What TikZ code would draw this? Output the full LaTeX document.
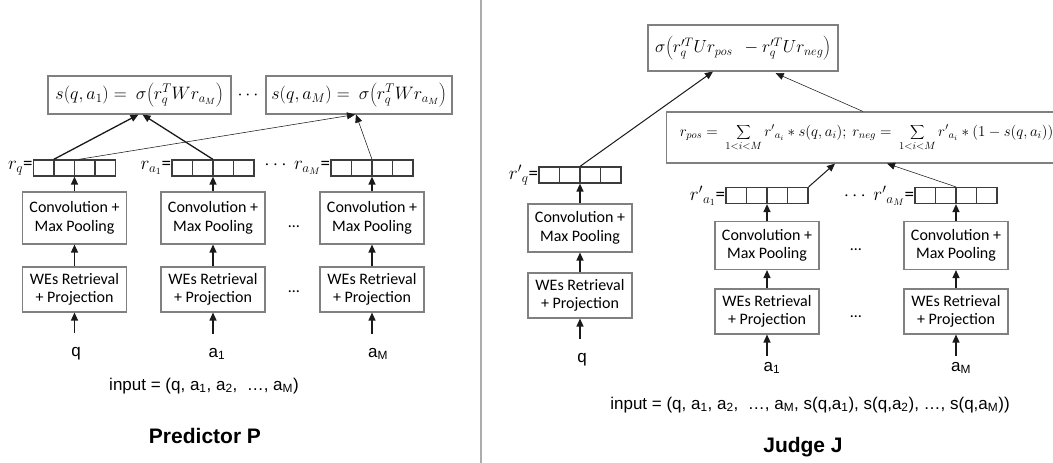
\RequirePackage{fix-cm}
\documentclass[tikz,border=0pt]{standalone}
\usepackage[no-math]{fontspec}
\setmainfont{Carlito}
\newfontfamily\arialf{Liberation Sans}
\usetikzlibrary{calc,arrows.meta}
\definecolor{boxgray}{HTML}{808080}
\definecolor{ink}{HTML}{1A1A1A}
\begin{document}
\begin{tikzpicture}[x=1pt,y=-1pt,
  box/.style={draw=boxgray, line width=1.1pt, align=center, inner sep=0pt, minimum width=104pt, font=\fontsize{16}{18.5}\selectfont},
  mbox/.style={draw=boxgray, line width=1.1pt, inner sep=0pt, font=\fontsize{18}{21}\selectfont},
  vecbox/.style={draw=ink!85, line width=1.2pt, minimum width=82pt, minimum height=16pt, inner sep=0pt,
     path picture={\foreach \k in {1,2,3}{\draw[ink!85, line width=1.2pt] ($(path picture bounding box.south west)!\k/4!(path picture bounding box.south east)$) -- ($(path picture bounding box.north west)!\k/4!(path picture bounding box.north east)$);}}},
  vlab/.style={inner sep=0pt, font=\fontsize{19}{22}\selectfont},
  lab/.style={inner sep=0pt, font=\arialf\fontsize{17}{20}\selectfont},
  arr/.style={draw=ink, line width=1.3pt, -{Triangle[length=8pt,width=7pt]}},
  marr/.style={draw=ink, line width=1pt, -{Triangle[length=8pt,width=7pt]}},
  tarr/.style={draw=ink, line width=0.55pt, -{Triangle[length=8pt,width=7pt]}},
  dotsn/.style={inner sep=0pt, font=\fontsize{16}{18}\selectfont},
  titlen/.style={inner sep=0pt, font=\arialf\bfseries\fontsize{21}{25}\selectfont}
]
\fill[white] (0,0) rectangle (1053,463);
\useasboundingbox (0,0) rectangle (1053,463);

% ---------------- Predictor P ----------------
\node[mbox, minimum width=183pt, minimum height=38pt] (S1) at (139.5,95) {$s(q,a_1) =\ \sigma\!\left(r_q^T W r_{a_M}\right)$};
\node[dotsn, font=\fontsize{18}{21}\selectfont] (sd) at (248,95) {$\cdots$};
\node[mbox, minimum width=186pt, minimum height=38pt] (S2) at (359,95) {$s(q,a_M) =\ \sigma\!\left(r_q^T W r_{a_M}\right)$};

\node[vecbox] (vq) at (74.5,168) {};
\node[vecbox] (va) at (213,168) {};
\node[vecbox] (vm) at (372,168) {};
\node[vlab, anchor=east] (lvq) at (vq.west) {$r_q$=};
\node[vlab, anchor=east] (lva) at (va.west) {$r_{a_1}$=};
\node[vlab, anchor=east] (lvm) at (vm.west) {$\cdots\ r_{a_M}$=};

\node[box, minimum height=52pt] (cq) at (74.5,218) {Convolution +\\Max Pooling};
\node[box, minimum height=52pt] (ca) at (213,218) {Convolution +\\Max Pooling};
\node[box, minimum height=52pt] (cm) at (372,218) {Convolution +\\Max Pooling};
\node[box, minimum height=45pt] (wq) at (74.5,289.5) {WEs Retrieval\\+ Projection};
\node[box, minimum height=45pt] (wa) at (213,289.5) {WEs Retrieval\\+ Projection};
\node[box, minimum height=45pt] (wm) at (372,289.5) {WEs Retrieval\\+ Projection};
\node[dotsn] (d1) at (294,227) {\ldots};
\node[dotsn] (d2) at (294,292) {\ldots};

\node[lab] (lq) at (76,354) {q};
\node[lab] (la) at (217,354) {a\textsubscript{1}};
\node[lab] (lm) at (378,354) {a\textsubscript{M}};

\draw[arr, shorten <=14pt] (lq.north -| wq.south) -- (wq.south);
\draw[arr, shorten <=14pt] (la.north -| wa.south) -- (wa.south);
\draw[arr, shorten <=14pt] (lm.north -| wm.south) -- (wm.south);
\draw[arr] (wq.north) -- (cq.south);
\draw[arr] (wa.north) -- (ca.south);
\draw[arr] (wm.north) -- (cm.south);
\draw[arr] (cq.north) -- (vq.south);
\draw[arr] (ca.north) -- (va.south);
\draw[arr] (cm.north) -- (vm.south);

\draw[arr] ($(vq.north west)!0.25!(vq.north east)$) -- ([xshift=-1pt]S1.south);
\draw[arr] (va.north) -- ([xshift=3pt]S1.south);
\draw[tarr] ($(vq.north west)!0.55!(vq.north east)$) -- ([xshift=-4pt]S2.south);
\draw[tarr] (vm.north) -- ([xshift=-3pt]S2.south);

\node[lab] (inP) at (204,386) {input = (q, a\textsubscript{1}, a\textsubscript{2}, \ …, a\textsubscript{M})};
\node[titlen] (tP) at (205,436) {Predictor P};

% divider
\draw[gray!65, line width=1.5pt] (481,0) -- (481,463);

% ---------------- Judge J ----------------
\node[mbox, minimum width=190pt, minimum height=46pt, font=\fontsize{17.5}{21}\selectfont] (T) at (743,48) {$\sigma\!\left(r'^{T}_{q} U r_{pos}\ \ - r'^{T}_{q} U r_{neg}\right)$};
\node[mbox, anchor=west, minimum width=400pt, minimum height=51pt, font=\fontsize{15}{18}\selectfont] (R) at (666,137.5)
  {$\displaystyle r_{pos} =\ \sum_{1<i<M} {r'}_{a_i} * s(q,a_i);\ r_{neg} =\ \sum_{1<i<M} {r'}_{a_i} * (1-s(q,a_i))$};

\node[vecbox] (vq2) at (580,175) {};
\node[vecbox] (va2) at (767,195.5) {};
\node[vecbox] (vm2) at (956,195.5) {};
\node[vlab, anchor=east] (lvq2) at (vq2.west) {${r'}_q$=};
\node[vlab, anchor=east] (lva2) at (va2.west) {${r'}_{a_1}$=};
\node[vlab, anchor=east] (lvm2) at (vm2.west) {$\cdots\ {r'}_{a_M}$=};

\node[box, minimum height=48pt] (cq2) at (580,228) {Convolution +\\Max Pooling};
\node[box, minimum height=48pt] (ca2) at (767,245.5) {Convolution +\\Max Pooling};
\node[box, minimum height=48pt] (cm2) at (956,245.5) {Convolution +\\Max Pooling};
\node[box, minimum height=45pt] (wq2) at (580,295.5) {WEs Retrieval\\+ Projection};
\node[box, minimum height=45pt] (wa2) at (767,311.5) {WEs Retrieval\\+ Projection};
\node[box, minimum height=45pt] (wm2) at (956,311.5) {WEs Retrieval\\+ Projection};
\node[dotsn] (d3) at (856,250) {\ldots};
\node[dotsn] (d4) at (856,317) {\ldots};

\node[lab] (lq2) at (582,360) {q};
\node[lab] (la2) at (772,368) {a\textsubscript{1}};
\node[lab] (lm2) at (961,368) {a\textsubscript{M}};

\draw[arr, shorten <=14pt] (lq2.north -| wq2.south) -- (wq2.south);
\draw[arr, shorten <=6pt] (la2.north -| wa2.south) -- (wa2.south);
\draw[arr, shorten <=6pt] (lm2.north -| wm2.south) -- (wm2.south);
\draw[arr] (wq2.north) -- (cq2.south);
\draw[arr] (wa2.north) -- (ca2.south);
\draw[arr] (wm2.north) -- (cm2.south);
\draw[arr] (cq2.north) -- (vq2.south);
\draw[arr] (ca2.north) -- (va2.south);
\draw[arr] (cm2.north) -- (vm2.south);

\draw[marr] (vq2.north) -- ([xshift=-30pt]T.south);
\draw[tarr, shorten >=4pt] ($(R.north west)+(197,0)$) -- ([xshift=29pt]T.south);
\draw[marr] (va2.north east) -- ($(R.south west)+(169,0)$);
\draw[tarr] (vm2.north) -- ($(R.south west)+(221,0)$);

\node[lab] (inJ) at (810,405) {input = (q, a\textsubscript{1}, a\textsubscript{2}, \ …, a\textsubscript{M}, s(q,a\textsubscript{1}), s(q,a\textsubscript{2}), …, s(q,a\textsubscript{M}))};
\node[titlen] (tJ) at (803,447) {Judge J};
\end{tikzpicture}
\end{document}
